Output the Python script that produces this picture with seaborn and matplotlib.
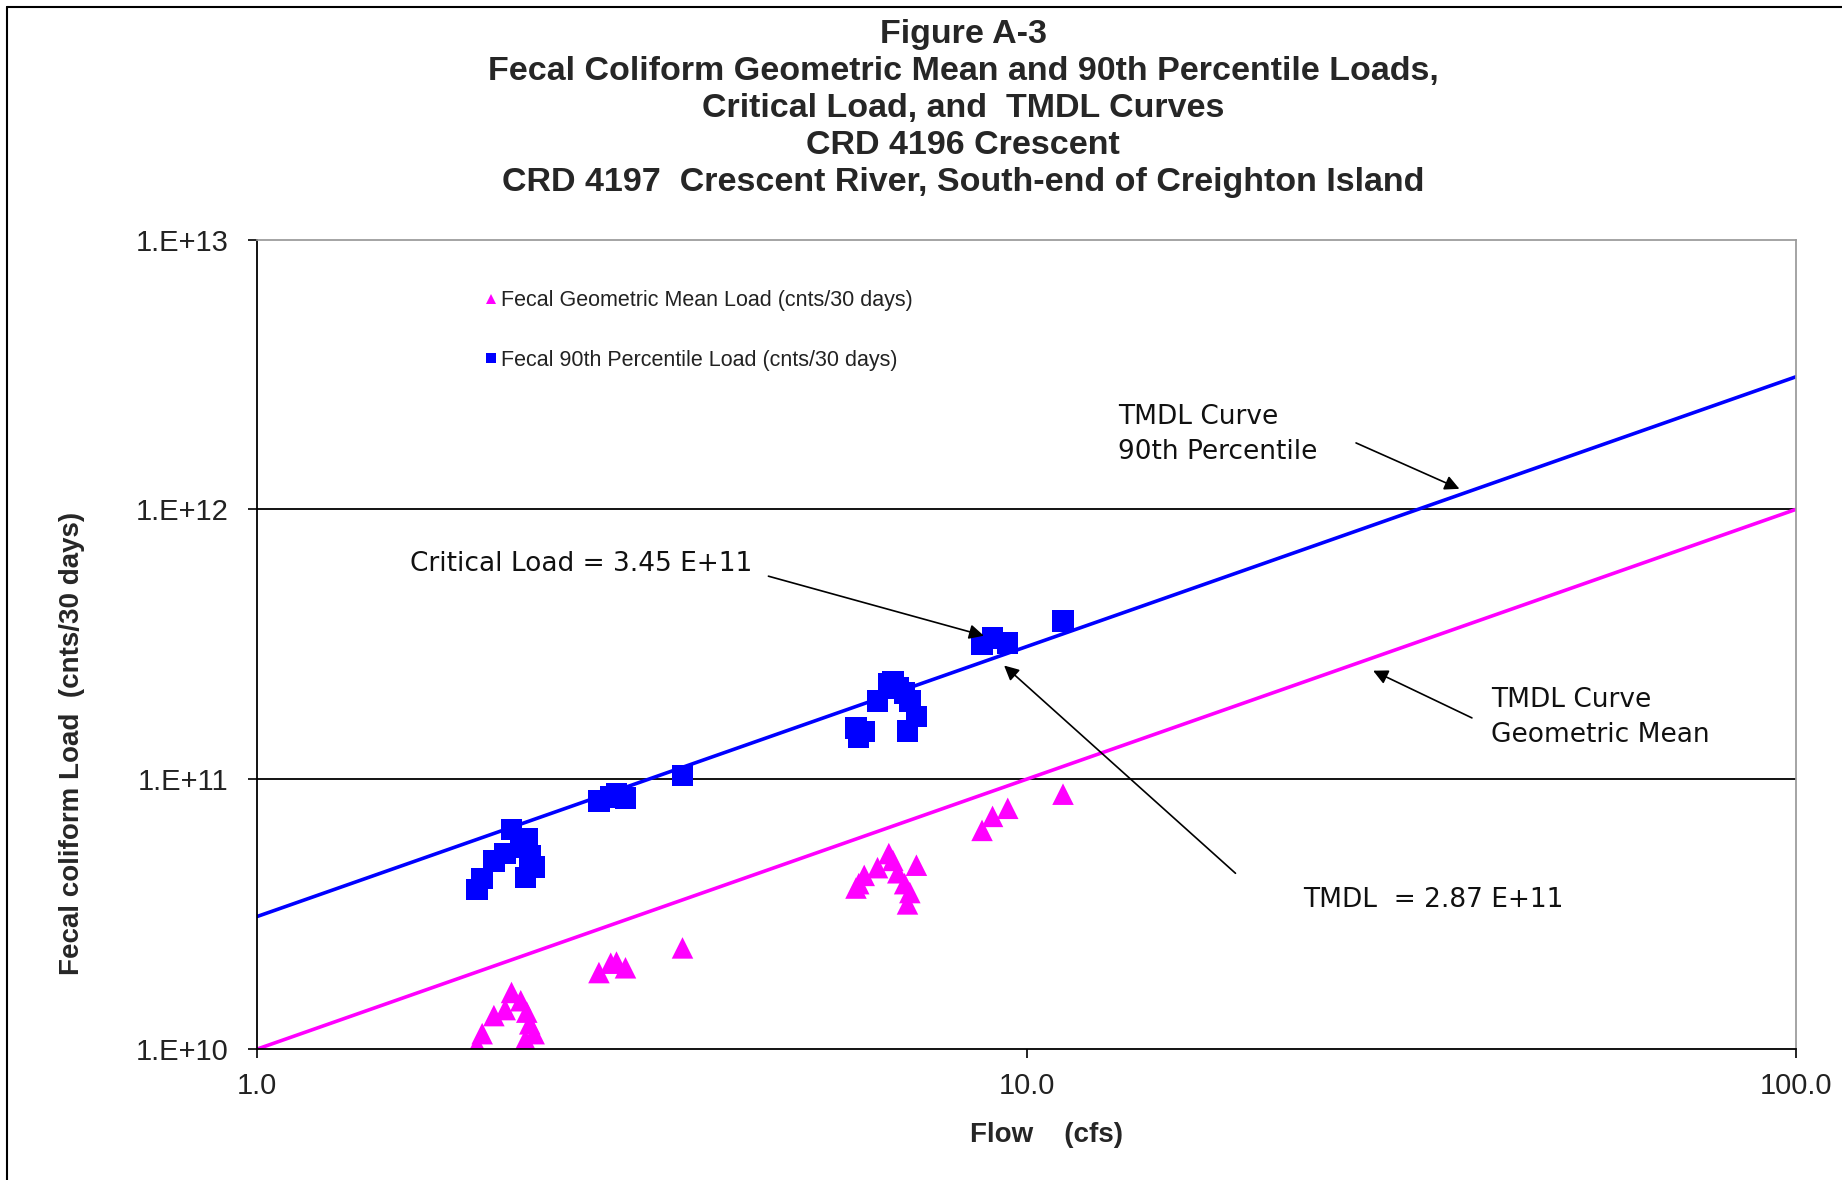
import numpy as np
import pandas as pd
import matplotlib
matplotlib.use("Agg")
import matplotlib.pyplot as plt
from matplotlib.lines import Line2D
import seaborn as sns

# Datos (caudal en cfs, cargas en cnts/30 dias)
flow = [1.93, 1.96, 2.03, 2.10, 2.14, 2.20, 2.24, 2.26, 2.29, 2.23,
        2.78, 2.88, 2.93, 3.01,
        3.57,
        6.00, 6.05, 6.15, 6.40, 6.62, 6.70, 6.80, 6.94, 7.00, 7.05, 7.19,
        8.75, 9.03, 9.45,
        11.15]
load_90th = [3.9e10, 4.28e10, 4.98e10, 5.3e10, 6.52e10, 5.6e10, 6.0e10, 5.2e10, 4.73e10, 4.32e10,
             8.3e10, 8.6e10, 8.8e10, 8.5e10,
             1.03e11,
             1.55e11, 1.43e11, 1.50e11, 1.95e11, 2.26e11, 2.30e11, 2.18e11, 2.09e11, 1.51e11, 1.95e11, 1.71e11,
             3.15e11, 3.34e11, 3.2e11,
             3.85e11]
load_geo = [1.03e10, 1.14e10, 1.33e10, 1.40e10, 1.62e10, 1.51e10, 1.37e10, 1.24e10, 1.14e10, 1.08e10,
            1.92e10, 2.08e10, 2.10e10, 2.00e10,
            2.37e10,
            3.95e10, 4.10e10, 4.40e10, 4.70e10, 5.30e10, 5.00e10, 4.50e10, 4.10e10, 3.45e10, 3.80e10, 4.80e10,
            6.46e10, 7.28e10, 7.80e10,
            8.80e10]

curve_flow = [1.0, 100.0]
tmdl_90th = [3.1e10, 3.1e12]
tmdl_geo = [1.0e10, 1.0e12]

lab_geo = "Fecal Geometric Mean Load (cnts/30 days)"
lab_90 = "Fecal 90th Percentile Load (cnts/30 days)"

xticks = [1, 10, 100]
xlabels = ["1.0", "10.0", "100.0"]
yticks = [1e10, 1e11, 1e12, 1e13]
ylabels = ["1.E+10", "1.E+11", "1.E+12", "1.E+13"]

df = pd.concat([
    pd.DataFrame({"flow": flow, "load": load_geo, "serie": lab_geo}),
    pd.DataFrame({"flow": flow, "load": load_90th, "serie": lab_90}),
])

sns.set_theme(style="white")
plt.rcParams['font.family'] = ['Liberation Sans', 'DejaVu Sans']

fig = plt.figure(figsize=(18.42, 11.8), dpi=100)
ax = fig.add_axes([0.1397, 0.111, 0.8353, 0.686])

# Curvas TMDL
sns.lineplot(x=curve_flow, y=tmdl_90th, color="#0000FF", linewidth=2.6, ax=ax, legend=False)
sns.lineplot(x=curve_flow, y=tmdl_geo, color="#FF00FF", linewidth=2.6, ax=ax, legend=False)

# Puntos
sns.scatterplot(data=df, x="flow", y="load", hue="serie", style="serie",
                palette={lab_geo: "#FF00FF", lab_90: "#0000FF"},
                markers={lab_geo: "^", lab_90: "s"},
                s=240, linewidth=0, ax=ax)

ax.set_xscale("log")
ax.set_yscale("log")
ax.set_xlim(1, 100)
ax.set_ylim(1e10, 1e13)
ax.set_xticks(xticks)
ax.set_xticklabels(xlabels)
ax.set_yticks(yticks)
ax.set_yticklabels(ylabels)
ax.minorticks_off()
ax.tick_params(axis="both", labelsize=21, colors="black", length=6.5, width=1.2,
               direction="out", left=True, bottom=True)
ax.tick_params(axis="x", pad=10)
ax.tick_params(axis="y", pad=14)
for t in ax.get_xticklabels() + ax.get_yticklabels():
    t.set_color("#222222")

for y in [1e11, 1e12]:
    ax.axhline(y, color="black", linewidth=1.3, zorder=0)

ax.spines["left"].set_color("black")
ax.spines["bottom"].set_color("black")
ax.spines["left"].set_linewidth(1.3)
ax.spines["bottom"].set_linewidth(1.3)
ax.spines["top"].set_color("#999999")
ax.spines["right"].set_color("#999999")

ax.set_xlabel("Flow    (cfs)", fontsize=20, fontweight="bold")
ax.set_ylabel("Fecal coliform Load  (cnts/30 days)", fontsize=20, fontweight="bold")
ax.xaxis.set_label_coords(0.513, -0.090)
ax.yaxis.set_label_coords(-0.112, 0.378)

leg = ax.legend(loc="upper left", bbox_to_anchor=(0.132, 0.948), frameon=False,
                fontsize=15.5, markerscale=0.45, labelspacing=1.8,
                handletextpad=-0.5, borderaxespad=0)
for t in leg.get_texts():
    t.set_color("#222222")

# Anotaciones
afont = dict(fontsize=19, family=["DejaVu Sans"], color="#111111")
arr = dict(arrowstyle="-|>", color="black", lw=1.2, mutation_scale=22)

ax.text(13.15, 1.89e12, "TMDL Curve\n90th Percentile", ha="left", va="center",
        linespacing=1.45, **afont)
ax.annotate("", xy=(36.8, 1.18e12), xytext=(26.6, 1.78e12), arrowprops=arr)

ax.text(1.58, 6.29e11, "Critical Load = 3.45 E+11", ha="left", va="center", **afont)
ax.annotate("", xy=(8.87, 3.38e11), xytext=(4.58, 5.69e11), arrowprops=arr)

ax.text(40.2, 1.69e11, "TMDL Curve\nGeometric Mean", ha="left", va="center",
        linespacing=1.45, **afont)
ax.annotate("", xy=(28.0, 2.55e11), xytext=(38.2, 1.67e11), arrowprops=arr)

ax.text(22.9, 3.57e10, "TMDL  = 2.87 E+11", ha="left", va="center", **afont)
ax.annotate("", xy=(9.29, 2.68e11), xytext=(18.8, 4.41e10), arrowprops=arr)

title = ("Figure A-3\n"
         "Fecal Coliform Geometric Mean and 90th Percentile Loads,\n"
         "Critical Load, and  TMDL Curves\n"
         "CRD 4196 Crescent\n"
         "CRD 4197  Crescent River, South-end of Creighton Island")
fig.text(0.523, 0.984, title, ha="center", va="top", fontsize=24.5,
         fontweight="bold", linespacing=1.25)

# Marco de la figura
fig.add_artist(Line2D([0.0038, 0.0038], [0.0, 0.994], color="black", lw=1.5, transform=fig.transFigure))
fig.add_artist(Line2D([0.0038, 1.0], [0.994, 0.994], color="black", lw=1.5, transform=fig.transFigure))

plt.savefig("out.png", dpi=100)
